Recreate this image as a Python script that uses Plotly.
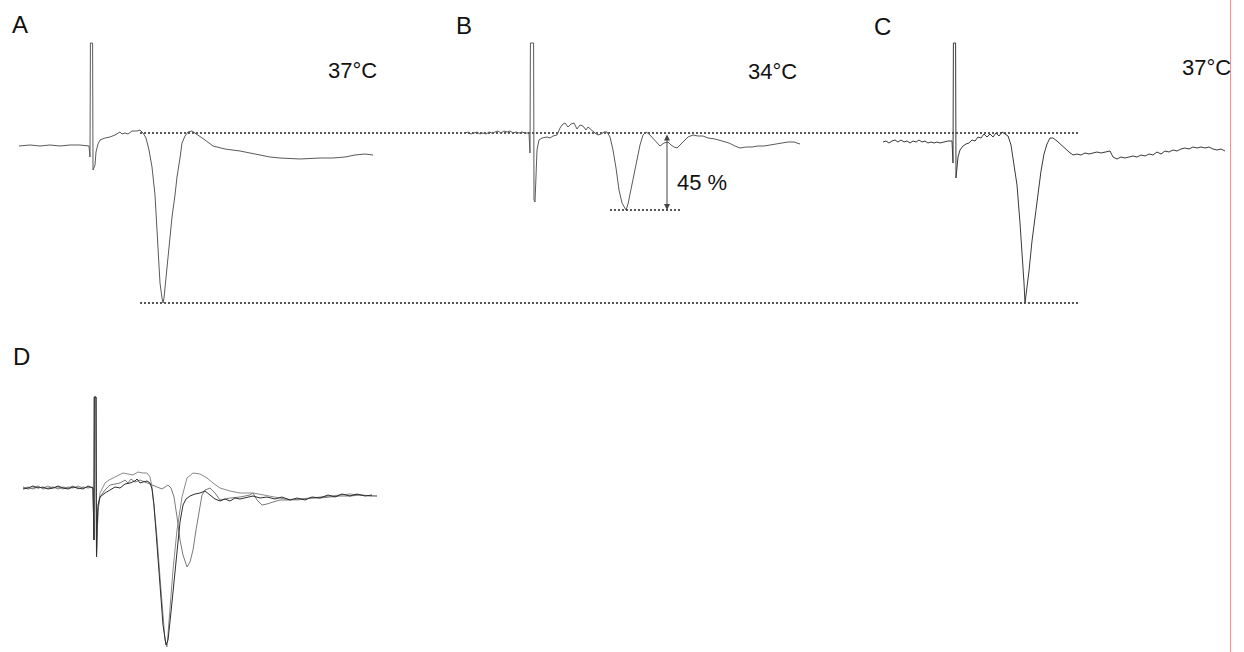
import plotly.graph_objects as go

# ---------------- data (time in ms from stimulus, amplitude in mV) ----------------
# Panel A, 37°C
A_t = [-7.1, -6.0, -5.0, -4.0, -3.0, -2.0, -1.0, -0.1,
       0.0, 0.04, 0.26, 0.3,
       0.5, 0.6, 0.8, 1.0, 1.5, 2.0, 2.5, 3.0, 3.2, 3.5, 3.8, 4.2, 4.7, 5.0,
       5.3, 5.6, 5.9, 6.2, 6.5, 6.7, 6.9, 7.0, 7.2, 7.3, 7.4, 7.7, 8.0, 8.2, 8.5, 8.7, 9.0, 9.2, 9.5, 9.8, 10.2,
       10.5, 10.8, 11.5, 12.3, 13.5, 15.0, 16.5, 18.0, 19.0, 21.0, 23.0, 24.3, 25.5, 26.5, 27.5, 28.3]
A_v = [-0.13, -0.12, -0.13, -0.12, -0.13, -0.12, -0.12, -0.13,
       -0.24, 0.90, 0.90, -0.37,
       -0.32, -0.19, -0.11, -0.07, -0.05, -0.04, -0.02, 0.01, -0.01, 0.00, -0.01, 0.02, 0.02, 0.03,
       0.00, -0.05, -0.17, -0.34, -0.62, -1.00, -1.29, -1.50, -1.65, -1.70, -1.65, -1.34, -1.02, -0.84, -0.62, -0.44, -0.25, -0.10, -0.03, 0.01, 0.02,
       0.00, -0.02, -0.07, -0.13, -0.16, -0.18, -0.21, -0.24, -0.25, -0.26, -0.25, -0.25, -0.24, -0.22, -0.21, -0.22]

# Panel B, 34°C
B_t = [-6.5, -6.2, -5.9, -5.6, -5.3, -5.0, -4.7, -4.4, -4.1, -3.8, -3.5, -3.2, -2.9, -2.6, -2.3, -2.0, -1.7, -1.4, -1.1, -0.8, -0.5, -0.1,
       0.0, 0.04, 0.36, 0.4,
       0.5, 0.6, 0.7, 0.9, 1.2, 1.7, 2.0, 2.3, 2.7, 3.0, 3.3, 3.5, 3.8, 4.1, 4.4, 4.7, 5.0, 5.3, 5.6, 5.8,
       6.1, 6.5, 6.8, 7.1, 7.4, 7.7, 8.0, 8.3, 8.6, 8.9, 9.2, 9.5, 9.6, 9.8, 10.1, 10.4, 10.7, 11.0, 11.3, 11.6,
       11.9, 12.3, 12.7, 13.0, 13.4, 13.8, 14.1, 14.4, 14.7, 15.0, 15.4, 15.8, 16.3, 16.8, 17.3, 17.8, 18.5, 19.2, 19.9, 20.5,
       21.0, 21.6, 22.2, 22.8, 23.4, 24.0, 24.6, 25.2, 25.8, 26.4, 27.0]
B_v = [0.00, 0.01, -0.01, 0.00, 0.01, -0.01, 0.00, -0.01, 0.01, 0.00, 0.01, 0.02, 0.00, 0.02, 0.01, 0.02, 0.00, 0.01, 0.00, 0.01, 0.00, 0.00,
       -0.20, 0.90, 0.90, -0.67,
       -0.69, -0.42, -0.17, -0.07, -0.05, -0.04, -0.05, -0.03, -0.02, 0.05, 0.09, 0.10, 0.06, 0.09, 0.10, 0.04, 0.08, 0.07, 0.03, 0.06,
       0.03, 0.00, -0.02, -0.01, 0.01, 0.01, -0.04, -0.17, -0.35, -0.57, -0.70, -0.76, -0.77, -0.71, -0.57, -0.42, -0.27, -0.12, -0.02, 0.01,
       -0.01, -0.05, -0.10, -0.13, -0.10, -0.09, -0.12, -0.14, -0.15, -0.12, -0.08, -0.04, -0.02, -0.03, -0.03, -0.05, -0.06, -0.08, -0.10, -0.13,
       -0.15, -0.14, -0.14, -0.13, -0.13, -0.12, -0.11, -0.10, -0.09, -0.09, -0.11]

# Panel C, back to 37°C
C_t = [-7.0, -6.7, -6.4, -6.1, -5.8, -5.5, -5.2, -4.9, -4.6, -4.3, -4.0, -3.7, -3.4, -3.1, -2.8, -2.5, -2.2, -1.9, -1.6, -1.3, -0.9, -0.5, -0.1,
       0.0, 0.04, 0.26, 0.3,
       0.4, 0.5, 0.7, 1.0, 1.3, 1.6, 1.9, 2.2, 2.5, 2.8, 3.1, 3.4, 3.7, 4.0, 4.3, 4.6, 4.9, 5.2, 5.5, 5.8,
       6.1, 6.4, 6.7, 6.9, 7.1, 7.2, 7.4, 7.6, 7.9, 8.2, 8.5, 8.8, 9.1, 9.4, 9.7, 10.0, 10.4, 10.8, 11.2, 11.6,
       12.0, 12.4, 12.8, 13.2, 13.6, 14.0, 14.4, 14.8, 15.2, 15.7, 16.0, 16.4, 16.8, 17.2, 17.6, 18.0, 18.4, 18.8, 19.2, 19.6,
       20.0, 20.4, 20.8, 21.2, 21.6, 22.0, 22.4, 22.8, 23.2, 23.6, 24.0, 24.4, 24.8, 25.2, 25.6, 26.0, 26.4, 26.8, 27.2]
C_v = [-0.09, -0.08, -0.10, -0.08, -0.07, -0.09, -0.07, -0.09, -0.08, -0.10, -0.08, -0.09, -0.07, -0.09, -0.08, -0.10, -0.09, -0.10, -0.09, -0.10, -0.09, -0.08, -0.08,
       -0.30, 0.90, 0.90, -0.45,
       -0.37, -0.24, -0.17, -0.13, -0.11, -0.10, -0.07, -0.08, -0.04, -0.05, -0.01, -0.04, -0.01, -0.04, 0.00, -0.03, 0.01, -0.01, -0.03, -0.12,
       -0.30, -0.52, -0.90, -1.17, -1.50, -1.70, -1.55, -1.38, -1.08, -0.85, -0.60, -0.38, -0.21, -0.11, -0.05, -0.05, -0.08, -0.12, -0.15, -0.19,
       -0.22, -0.21, -0.22, -0.20, -0.21, -0.20, -0.19, -0.20, -0.19, -0.18, -0.24, -0.26, -0.24, -0.25, -0.24, -0.23, -0.24, -0.22, -0.23, -0.21,
       -0.22, -0.19, -0.21, -0.18, -0.19, -0.17, -0.18, -0.16, -0.15, -0.16, -0.14, -0.15, -0.14, -0.15, -0.14, -0.16, -0.17, -0.16, -0.18]

# Panel D: three superimposed responses
D_base_t = [-7.2, -6.7, -6.2, -5.7, -5.2, -4.7, -4.2, -3.7, -3.2, -2.7, -2.2, -1.7, -1.2, -0.7, -0.2]
D_art_t = [-0.1, -0.07, 0.1, 0.15]
D_art_v = [-0.52, 0.91, 0.91, -0.69]

D1_base_v = [0.00, 0.01, -0.01, 0.01, 0.00, 0.02, 0.00, 0.01, -0.01, 0.01, 0.00, 0.02, 0.00, 0.01, 0.00]
D1_t = [0.2, 0.3, 0.5, 0.8, 1.0, 1.4, 1.8, 2.3, 2.8, 3.3, 3.8, 4.3, 4.8, 5.2, 5.5, 5.7, 5.9, 6.2, 6.5, 6.8,
        7.0, 7.2, 7.5, 7.8, 8.2, 8.7, 9.2, 9.8, 10.5, 11.2, 11.8, 12.5, 13.5, 14.5, 15.8, 16.8, 17.8, 19.0, 20.2, 21.5,
        22.5, 23.5, 24.5, 25.5, 26.5, 27.5, 28.2]
D1_v = [-0.52, -0.22, -0.05, 0.02, 0.05, 0.08, 0.10, 0.12, 0.15, 0.14, 0.13, 0.16, 0.15, 0.15, 0.11, 0.01, -0.17, -0.49, -0.89, -1.29,
        -1.52, -1.59, -1.22, -0.82, -0.42, -0.09, 0.10, 0.15, 0.14, 0.10, 0.05, 0.00, -0.03, -0.05, -0.05, -0.07, -0.09, -0.11, -0.12, -0.10,
        -0.09, -0.08, -0.07, -0.06, -0.07, -0.08, -0.08]

D2_base_v = [0.01, -0.01, 0.00, 0.02, -0.01, 0.00, 0.01, -0.01, 0.01, 0.00, 0.02, -0.01, 0.01, 0.00, 0.01]
D2_t = [0.2, 0.3, 0.5, 1.0, 1.5, 2.0, 2.5, 3.0, 3.3, 3.6, 4.0, 4.5, 5.0, 5.5, 6.0, 6.4, 6.7, 7.0, 7.3, 7.6,
        7.9, 8.2, 8.5, 8.8, 9.2, 9.5, 9.8, 10.1, 10.4, 10.7, 11.0, 11.5, 12.0, 12.5, 13.0, 13.5, 14.5, 15.5, 15.8, 16.2,
        16.7, 17.2, 17.8, 18.5, 19.5, 20.5, 21.5, 22.5, 23.5, 24.5, 25.5, 26.5, 27.5, 28.2]
D2_v = [-0.52, -0.22, -0.09, -0.02, 0.03, 0.04, 0.05, 0.08, 0.05, 0.09, 0.06, 0.08, 0.06, 0.04, 0.02, 0.00, -0.01, 0.01, 0.03, 0.00,
        -0.09, -0.29, -0.52, -0.67, -0.79, -0.74, -0.62, -0.42, -0.22, -0.07, -0.02, 0.00, -0.05, -0.12, -0.11, -0.10, -0.09, -0.07, -0.05, -0.12,
        -0.17, -0.16, -0.14, -0.12, -0.12, -0.11, -0.10, -0.10, -0.09, -0.08, -0.08, -0.07, -0.08, -0.08]

D3_base_v = [-0.01, 0.00, 0.02, 0.00, 0.01, -0.01, 0.00, 0.02, 0.00, -0.01, 0.01, 0.00, -0.01, 0.02, 0.00]
D3_t = [0.2, 0.3, 0.5, 1.0, 1.5, 2.0, 2.5, 3.0, 3.5, 4.0, 4.2, 4.5, 4.8, 5.2, 5.5, 5.7, 5.9, 6.2, 6.5, 6.8,
        7.1, 7.3, 7.6, 7.9, 8.2, 8.5, 8.8, 9.1, 9.5, 10.0, 10.5, 11.0, 11.5, 12.0, 12.5, 13.0, 13.5, 14.0, 14.5, 15.2,
        15.8, 16.5, 17.2, 18.0, 18.7, 19.5, 20.2, 21.0, 21.7, 22.5, 23.3, 24.0, 24.7, 25.5, 26.2, 27.0, 27.7]
D3_v = [-0.42, -0.17, -0.09, -0.05, -0.02, 0.01, 0.00, 0.04, 0.05, 0.07, 0.09, 0.05, 0.06, 0.07, 0.05, -0.01, -0.17, -0.57, -1.02, -1.37,
        -1.57, -1.52, -1.24, -0.94, -0.65, -0.34, -0.17, -0.11, -0.08, -0.06, -0.05, -0.03, -0.07, -0.11, -0.13, -0.11, -0.13, -0.10, -0.11, -0.09,
        -0.08, -0.10, -0.09, -0.11, -0.09, -0.12, -0.10, -0.12, -0.09, -0.10, -0.07, -0.09, -0.06, -0.08, -0.06, -0.08, -0.07]

# reference levels and annotation values
ref_levels = [0.0, -1.70]          # pre-trough level and 37°C peak amplitude
ref_span_t = [5.0, 98.8]           # extent of the reference lines (panel A time base)
B_peak = -0.77                     # 34°C peak amplitude
B_peak_span_t = [8.0, 15.0]
B_arrow_t = 13.7
ratio_label = "45 %"
panel_labels = ["A", "B", "C", "D"]
temps = ["37°C", "34°C", "37°C"]

# ---------------- figure ----------------
W, H = 1244, 652
FONT = "Liberation Sans, Arial, sans-serif"
fig = go.Figure()


def add_line(t, v, xa, ya, color, width=1.0, dash=None):
    fig.add_trace(go.Scatter(x=t, y=v, xaxis=xa, yaxis=ya, mode="lines",
                             line=dict(color=color, width=width, dash=dash),
                             hoverinfo="skip", showlegend=False))


add_line(A_t, A_v, "x", "y", "#5a5a5a")
add_line(B_t, B_v, "x2", "y", "#5a5a5a")
add_line(C_t, C_v, "x3", "y", "#3a3a3a")

for bv, t, v, col in [(D1_base_v, D1_t, D1_v, "#8a8a8a"),
                      (D2_base_v, D2_t, D2_v, "#7a7a7a"),
                      (D3_base_v, D3_t, D3_v, "#2e2e2e")]:
    add_line(D_base_t + D_art_t + t, bv + D_art_v + v, "x4", "y2", col)

# dotted reference lines
for lvl in ref_levels:
    add_line(ref_span_t, [lvl, lvl], "x", "y", "#222222", 1.3, "2px,2px")
add_line(B_peak_span_t, [B_peak, B_peak], "x2", "y", "#222222", 1.3, "2px,2px")

# double arrow
fig.add_annotation(x=B_arrow_t, y=B_peak, ax=B_arrow_t, ay=ref_levels[0],
                   xref="x2", yref="y", axref="x2", ayref="y", text="",
                   showarrow=True, arrowhead=2, arrowsize=1.2, arrowwidth=1,
                   arrowside="end+start", arrowcolor="#444444")
fig.add_annotation(x=B_arrow_t + 0.8, y=-0.49, xref="x2", yref="y", text=ratio_label,
                   showarrow=False, xanchor="left", yanchor="middle",
                   font=dict(family=FONT, size=22, color="#111111"))

# panel letters and temperatures (paper coordinates)
letter_pos = [(19.5, 24), (463.5, 25), (882.5, 27), (21, 356)]
for lab, (px, py) in zip(panel_labels, letter_pos):
    fig.add_annotation(x=px / W, y=1 - py / H, xref="paper", yref="paper", text=lab,
                       showarrow=False, xanchor="center", yanchor="middle",
                       font=dict(family=FONT, size=24, color="#111111"))
temp_pos = [(352, 70), (772, 71.5), (1206, 68)]
for lab, (px, py) in zip(temps, temp_pos):
    fig.add_annotation(x=px / W, y=1 - py / H, xref="paper", yref="paper", text=lab,
                       showarrow=False, xanchor="center", yanchor="middle",
                       font=dict(family=FONT, size=22, color="#111111"))

# red border line at right
fig.add_shape(type="line", xref="paper", yref="paper", x0=1230.5 / W, x1=1230.5 / W, y0=0, y1=1,
              line=dict(color="#ff8c8c", width=1))

hidden = dict(visible=False, showgrid=False, zeroline=False, fixedrange=True)
fig.update_layout(
    width=W, height=H, margin=dict(l=0, r=0, t=0, b=0),
    paper_bgcolor="white", plot_bgcolor="white",
    xaxis=dict(domain=[0, 1], range=[-9.0, 115.4], **hidden),
    xaxis2=dict(overlaying="x", range=[-53.0, 71.4], **hidden),
    xaxis3=dict(overlaying="x", range=[-95.3, 29.1], **hidden),
    xaxis4=dict(overlaying="x", range=[-9.5, 114.9], **hidden),
    yaxis=dict(domain=[0, 1], range=[-5.19, 1.33], **hidden),
    yaxis2=dict(overlaying="y", range=[-1.64, 4.88], **hidden),
    showlegend=False,
)

fig.write_html("out.html", config={"displayModeBar": False},
               post_script="document.body.style.margin='0';")
